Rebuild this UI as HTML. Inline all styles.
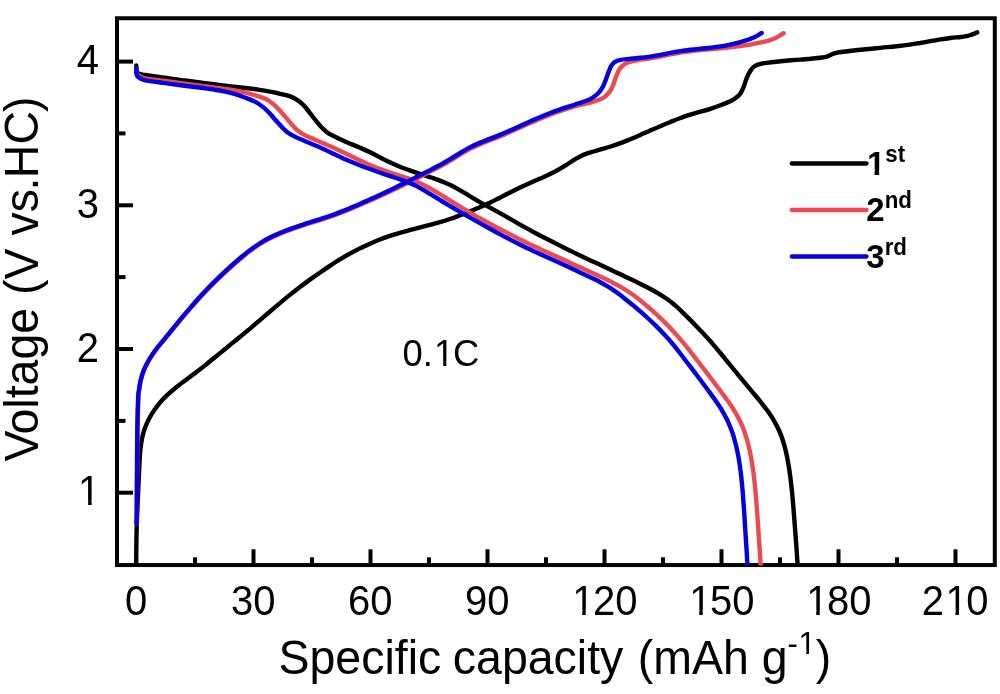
<!DOCTYPE html>
<html lang="en"><head><meta charset="utf-8"><title>Voltage profile</title>
<style>html,body{margin:0;padding:0;background:#fff}svg{display:block}text{font-family:"Liberation Sans",Arial,Helvetica,sans-serif;fill:#000}</style></head><body>
<svg width="1000" height="694" viewBox="0 0 1000 694">
<rect width="1000" height="694" fill="#fff"/>
<g stroke="#000" stroke-width="4" fill="none">
<line x1="195.0" y1="565.0" x2="195.0" y2="557.3"/>
<line x1="253.5" y1="565.0" x2="253.5" y2="549.3"/>
<line x1="312.0" y1="565.0" x2="312.0" y2="557.3"/>
<line x1="370.5" y1="565.0" x2="370.5" y2="549.3"/>
<line x1="429.0" y1="565.0" x2="429.0" y2="557.3"/>
<line x1="487.5" y1="565.0" x2="487.5" y2="549.3"/>
<line x1="546.0" y1="565.0" x2="546.0" y2="557.3"/>
<line x1="604.5" y1="565.0" x2="604.5" y2="549.3"/>
<line x1="663.0" y1="565.0" x2="663.0" y2="557.3"/>
<line x1="721.5" y1="565.0" x2="721.5" y2="549.3"/>
<line x1="780.0" y1="565.0" x2="780.0" y2="557.3"/>
<line x1="838.5" y1="565.0" x2="838.5" y2="549.3"/>
<line x1="897.0" y1="565.0" x2="897.0" y2="557.3"/>
<line x1="955.5" y1="565.0" x2="955.5" y2="549.3"/>
<line x1="117" y1="492.7" x2="133" y2="492.7"/>
<line x1="117" y1="420.9" x2="125.5" y2="420.9"/>
<line x1="117" y1="349.0" x2="133" y2="349.0"/>
<line x1="117" y1="277.1" x2="125.5" y2="277.1"/>
<line x1="117" y1="205.3" x2="133" y2="205.3"/>
<line x1="117" y1="133.4" x2="125.5" y2="133.4"/>
<line x1="117" y1="61.6" x2="133" y2="61.6"/>
<rect x="117" y="18.25" width="877.8" height="546.8"/>
</g>
<clipPath id="plot"><rect x="100" y="0" width="900" height="565.4"/></clipPath>
<g fill="none" stroke-width="4.4" stroke-linecap="round" stroke-linejoin="round" clip-path="url(#plot)">
<path stroke="#000" d="M136.2 564.0C136.2 560.5 136.3 549.7 136.4 543.0C136.5 536.3 136.5 532.5 136.8 523.8C137.1 515.0 137.8 500.3 138.2 490.5C138.6 480.7 139.1 471.5 139.4 465.0C139.7 458.5 139.9 455.1 140.2 451.5C140.5 447.9 140.8 446.1 141.2 443.4C141.6 440.7 142.0 438.1 142.7 435.4C143.4 432.7 144.1 430.2 145.2 427.3C146.3 424.4 147.8 421.1 149.3 418.2C150.8 415.3 152.5 412.8 154.3 410.1C156.2 407.4 158.4 404.5 160.4 402.1C162.4 399.7 164.6 397.5 166.6 395.6C168.6 393.7 170.3 392.2 172.4 390.5C174.4 388.7 176.4 387.1 178.8 385.2C181.1 383.4 183.7 381.6 186.5 379.5C189.4 377.4 192.6 375.1 195.8 372.6C198.9 370.2 202.3 367.5 205.6 364.9C209.0 362.2 212.2 359.5 215.6 356.7C219.0 354.0 222.4 351.2 226.0 348.3C229.5 345.3 233.3 342.3 237.1 339.2C240.8 336.2 244.8 332.9 248.6 329.8C252.3 326.6 256.1 323.4 259.7 320.3C263.4 317.2 266.8 314.1 270.3 311.2C273.8 308.2 277.1 305.4 280.5 302.6C283.8 299.8 287.2 297.1 290.5 294.4C293.9 291.7 297.3 289.0 300.6 286.5C304.0 283.9 307.3 281.5 310.6 279.1C314.0 276.7 317.2 274.5 320.5 272.2C323.8 270.0 327.0 267.8 330.3 265.6C333.6 263.4 336.9 261.2 340.2 259.2C343.6 257.2 346.9 255.2 350.3 253.4C353.7 251.5 357.0 249.8 360.4 248.1C363.8 246.5 367.1 244.9 370.5 243.4C373.8 241.9 377.2 240.5 380.5 239.2C383.9 237.9 387.3 236.8 390.6 235.7C394.0 234.6 397.3 233.6 400.6 232.6C404.0 231.7 407.2 230.8 410.5 229.9C413.8 229.0 417.0 228.2 420.2 227.4C423.5 226.6 426.8 225.8 430.1 224.9C433.3 224.1 436.7 223.2 440.0 222.2C443.3 221.3 446.7 220.2 450.0 219.0C453.4 217.9 456.7 216.6 460.1 215.3C463.5 214.1 466.8 212.7 470.2 211.3C473.6 210.0 476.9 208.6 480.3 207.1C483.7 205.6 487.0 204.0 490.4 202.4C493.8 200.8 497.1 199.0 500.5 197.4C503.8 195.7 507.2 193.9 510.5 192.2C513.9 190.6 517.2 188.9 520.6 187.3C523.9 185.7 527.2 184.2 530.6 182.7C533.9 181.3 537.1 179.9 540.4 178.5C543.7 177.0 547.0 175.6 550.1 174.1C553.3 172.6 556.5 170.9 559.4 169.2C562.3 167.5 565.1 165.7 567.8 164.0C570.4 162.3 572.8 160.5 575.3 159.1C577.9 157.6 580.2 156.2 582.9 155.1C585.6 153.9 588.3 153.0 591.3 152.1C594.2 151.1 597.4 150.4 600.7 149.4C603.9 148.5 607.3 147.6 610.6 146.5C613.9 145.5 617.2 144.3 620.6 143.1C623.9 141.9 627.1 140.6 630.4 139.3C633.7 137.9 636.9 136.5 640.2 135.0C643.6 133.6 646.9 132.1 650.2 130.6C653.6 129.1 656.9 127.6 660.3 126.2C663.7 124.7 667.0 123.3 670.4 122.0C673.8 120.6 677.1 119.2 680.5 118.0C683.8 116.8 687.1 115.6 690.4 114.6C693.8 113.5 697.1 112.7 700.4 111.7C703.7 110.8 707.1 109.9 710.4 108.8C713.7 107.8 717.0 106.6 720.4 105.3C723.7 104.1 727.5 102.6 730.2 101.3C732.9 100.0 734.6 98.7 736.3 97.4C738.0 96.1 739.2 95.1 740.4 93.4C741.6 91.7 742.5 89.5 743.4 87.3C744.3 85.1 745.1 82.5 745.9 80.3C746.7 78.1 747.5 76.0 748.4 74.2C749.3 72.4 750.3 70.6 751.5 69.2C752.7 67.8 753.8 66.5 755.5 65.6C757.2 64.7 759.0 64.2 761.6 63.6C764.2 63.0 767.8 62.7 771.0 62.3C774.2 61.9 777.5 61.5 780.7 61.2C784.0 60.9 787.3 60.6 790.6 60.3C793.9 60.1 797.2 59.9 800.4 59.6C803.7 59.3 807.0 59.1 810.3 58.8C813.6 58.4 817.5 58.0 820.2 57.7C822.9 57.4 824.4 57.4 826.2 56.9C828.1 56.4 829.6 55.3 831.3 54.6C833.0 53.9 833.9 53.3 836.3 52.8C838.7 52.3 842.6 51.9 845.8 51.5C849.0 51.1 852.3 50.7 855.6 50.3C858.9 49.9 862.2 49.6 865.6 49.2C869.0 48.9 872.4 48.6 876.0 48.2C879.5 47.9 883.3 47.5 887.1 47.1C890.9 46.8 894.9 46.4 898.7 46.0C902.5 45.6 906.3 45.1 909.8 44.6C913.4 44.1 916.8 43.5 920.2 43.0C923.6 42.4 926.9 41.8 930.3 41.2C933.7 40.6 937.0 40.0 940.4 39.4C943.8 38.9 947.1 38.5 950.5 38.0C953.8 37.6 957.8 37.3 960.5 37.0C963.2 36.7 964.8 36.6 966.6 36.2C968.5 35.8 969.8 35.3 971.6 34.7C973.4 34.1 976.3 32.8 977.2 32.4"/>
<path stroke="#000" d="M136.3 65.4C136.3 66.1 136.2 68.4 136.4 69.5C136.6 70.6 136.7 71.5 137.2 72.2C137.7 72.9 138.2 73.4 139.5 73.9C140.8 74.4 140.9 74.3 145.2 75.0C149.5 75.7 158.5 76.9 165.2 77.8C171.9 78.7 178.5 79.7 185.1 80.5C191.8 81.4 198.5 82.3 205.1 83.2C211.7 84.0 218.6 84.8 224.9 85.6C231.2 86.4 237.6 87.1 243.1 87.8C248.7 88.4 253.7 89.0 258.1 89.6C262.6 90.3 266.2 90.9 269.9 91.6C273.5 92.3 276.8 93.0 280.1 93.8C283.5 94.6 287.1 95.2 290.2 96.4C293.3 97.6 296.2 99.2 298.6 100.8C301.0 102.4 302.6 104.0 304.6 106.2C306.6 108.4 308.4 111.2 310.4 113.7C312.4 116.2 314.4 118.9 316.4 121.3C318.4 123.7 320.5 126.3 322.5 128.3C324.5 130.3 326.0 131.8 328.5 133.4C331.0 135.0 334.3 136.4 337.5 137.9C340.6 139.4 344.0 140.9 347.5 142.5C351.0 144.0 354.9 145.5 358.6 147.1C362.2 148.7 366.0 150.3 369.6 152.0C373.2 153.8 376.7 155.6 380.1 157.4C383.6 159.1 386.9 161.0 390.3 162.6C393.7 164.2 397.0 165.6 400.4 167.0C403.8 168.3 407.1 169.5 410.5 170.6C413.8 171.8 417.2 172.8 420.5 174.0C423.9 175.1 427.2 176.2 430.6 177.3C433.9 178.5 437.2 179.6 440.6 180.9C443.9 182.2 447.1 183.6 450.4 185.1C453.7 186.7 456.9 188.5 460.2 190.4C463.6 192.3 466.9 194.4 470.2 196.4C473.6 198.4 476.9 200.4 480.3 202.4C483.7 204.3 487.0 206.1 490.4 207.9C493.8 209.8 497.1 211.6 500.5 213.4C503.8 215.3 507.1 217.2 510.5 219.1C513.8 221.0 517.1 222.9 520.5 224.8C523.8 226.7 527.2 228.5 530.5 230.3C533.8 232.2 537.2 233.9 540.5 235.7C543.9 237.4 547.2 239.1 550.5 240.8C553.9 242.5 557.2 244.2 560.5 245.9C563.9 247.6 567.2 249.3 570.6 250.9C573.9 252.6 577.2 254.2 580.6 255.8C583.9 257.4 587.1 258.9 590.4 260.4C593.7 261.9 596.9 263.3 600.2 264.8C603.6 266.4 606.9 267.9 610.2 269.5C613.6 271.1 616.9 272.7 620.3 274.3C623.7 275.9 627.0 277.5 630.4 279.1C633.8 280.7 637.1 282.3 640.5 284.0C643.8 285.6 647.2 287.3 650.4 289.0C653.6 290.7 656.8 292.5 659.8 294.3C662.7 296.1 665.5 297.9 668.1 299.7C670.7 301.6 672.9 303.5 675.2 305.4C677.4 307.3 679.4 309.2 681.5 311.3C683.7 313.4 685.8 315.5 688.2 317.9C690.5 320.2 693.1 322.8 695.6 325.4C698.2 328.1 700.9 330.9 703.6 333.8C706.2 336.7 708.9 339.7 711.6 342.6C714.2 345.6 716.8 348.7 719.3 351.8C721.9 354.8 724.3 357.8 726.8 360.9C729.4 364.1 731.8 367.1 734.5 370.4C737.2 373.6 739.9 377.0 742.8 380.4C745.6 383.8 748.6 387.4 751.5 390.9C754.4 394.4 757.4 397.8 760.2 401.3C762.9 404.8 765.7 408.2 768.1 411.6C770.5 415.0 772.7 418.4 774.5 421.6C776.4 424.8 777.9 427.8 779.3 431.0C780.7 434.2 781.8 437.1 782.9 440.5C784.0 443.9 785.0 447.4 785.9 451.4C786.8 455.3 787.7 459.8 788.4 464.1C789.2 468.5 789.8 473.4 790.4 477.8C791.0 482.2 791.4 486.4 791.9 490.5C792.3 494.7 792.6 498.5 793.0 502.8C793.4 507.1 793.7 511.7 794.1 516.5C794.5 521.4 794.9 526.8 795.3 532.0C795.7 537.3 796.1 542.8 796.5 548.2C796.8 553.6 797.4 561.8 797.6 564.5"/>
<path stroke="#ed4a50" d="M136.8 523.8C136.9 519.0 137.0 504.8 137.0 495.0C137.1 485.2 137.1 476.6 137.2 465.0C137.3 453.4 137.4 436.6 137.6 425.3C137.8 414.0 138.2 402.8 138.4 397.0C138.7 391.2 138.7 393.3 139.1 390.5C139.5 387.8 140.0 383.9 140.8 380.6C141.6 377.2 142.6 373.8 143.9 370.5C145.3 367.1 147.0 363.8 148.9 360.4C150.9 357.1 153.1 353.7 155.6 350.4C158.0 347.0 161.0 343.7 163.7 340.3C166.5 336.9 169.3 333.5 172.2 330.0C175.1 326.5 178.1 322.9 181.2 319.2C184.3 315.5 187.5 311.6 190.8 307.9C194.1 304.1 197.5 300.3 200.8 296.7C204.2 293.0 207.5 289.5 210.9 286.1C214.2 282.7 217.6 279.5 220.9 276.4C224.2 273.3 227.5 270.3 230.8 267.3C234.1 264.3 237.4 261.4 240.7 258.6C244.0 255.8 247.3 253.0 250.7 250.5C254.0 248.1 257.4 245.8 260.7 243.7C264.1 241.6 267.4 239.8 270.8 238.1C274.1 236.4 277.5 234.9 280.8 233.5C284.1 232.1 287.5 230.9 290.8 229.6C294.2 228.4 297.5 227.3 300.9 226.2C304.2 225.1 307.5 224.0 310.8 223.0C314.1 221.9 317.4 221.0 320.7 219.9C324.0 218.8 327.2 217.8 330.5 216.6C333.9 215.5 337.2 214.2 340.6 212.9C343.9 211.7 347.3 210.3 350.7 208.9C354.0 207.5 357.4 206.1 360.7 204.6C364.1 203.2 367.4 201.8 370.8 200.3C374.1 198.8 377.5 197.3 380.8 195.7C384.2 194.2 387.5 192.6 390.9 191.0C394.2 189.4 397.6 187.8 401.0 186.2C404.3 184.5 407.7 182.9 411.1 181.2C414.4 179.6 417.8 177.9 421.1 176.2C424.5 174.5 427.9 172.8 431.2 171.1C434.6 169.4 437.9 167.7 441.3 165.9C444.6 164.0 447.9 162.1 451.2 160.1C454.5 158.2 457.7 156.0 461.0 154.0C464.3 152.1 467.6 150.1 470.9 148.4C474.2 146.8 477.5 145.3 480.9 143.9C484.2 142.5 487.6 141.4 490.9 140.0C494.3 138.7 497.7 137.4 501.0 136.0C504.4 134.6 507.8 133.1 511.1 131.6C514.5 130.1 517.9 128.6 521.2 127.1C524.6 125.6 527.9 124.1 531.2 122.6C534.6 121.2 537.8 119.7 541.1 118.3C544.4 117.0 547.6 115.6 550.8 114.4C554.1 113.1 557.3 111.9 560.6 110.8C563.9 109.7 567.3 108.6 570.6 107.6C573.9 106.6 577.3 105.7 580.6 104.9C583.9 104.0 587.4 103.3 590.4 102.5C593.4 101.7 596.0 100.9 598.4 100.0C600.8 99.1 602.6 98.3 604.5 97.0C606.4 95.7 608.1 93.7 609.5 91.9C610.9 90.1 611.7 88.5 612.6 86.4C613.5 84.3 614.3 81.6 615.1 79.3C615.9 77.0 616.7 74.6 617.6 72.7C618.5 70.8 619.4 69.1 620.6 67.7C621.8 66.3 623.2 65.2 624.7 64.2C626.2 63.2 627.7 62.6 629.7 62.0C631.7 61.4 633.6 60.9 636.8 60.3C640.0 59.7 645.0 59.1 648.9 58.5C652.7 57.8 656.4 57.1 660.0 56.5C663.5 55.8 666.9 55.1 670.3 54.4C673.7 53.8 677.0 53.2 680.4 52.6C683.8 52.1 687.1 51.6 690.5 51.2C693.8 50.7 697.2 50.4 700.5 50.0C703.8 49.7 707.1 49.4 710.4 49.2C713.7 48.9 716.9 48.7 720.2 48.4C723.5 48.1 726.8 47.8 730.1 47.4C733.5 47.0 736.9 46.6 740.2 46.1C743.5 45.7 746.9 45.2 750.2 44.6C753.4 44.0 756.6 43.4 759.6 42.7C762.7 42.1 765.8 41.5 768.4 40.7C771.0 39.9 773.5 38.9 775.5 38.0C777.5 37.1 779.1 36.0 780.5 35.2C781.9 34.4 783.1 33.5 783.6 33.2"/>
<path stroke="#ed4a50" d="M136.4 68.2C136.4 68.7 136.3 70.0 136.4 71.0C136.5 72.0 136.5 73.2 137.0 74.0C137.5 74.8 137.9 75.3 139.3 76.0C140.7 76.7 140.9 77.5 145.2 78.3C149.5 79.1 158.5 80.1 165.2 81.0C171.9 81.9 178.6 82.8 185.1 83.7C191.7 84.5 198.4 85.4 204.5 86.2C210.5 87.0 216.4 87.8 221.4 88.5C226.5 89.2 230.7 89.8 234.7 90.5C238.7 91.2 241.9 91.8 245.4 92.6C248.9 93.5 252.1 94.4 255.5 95.4C258.8 96.4 262.5 97.3 265.5 98.8C268.5 100.3 271.1 102.3 273.6 104.4C276.1 106.5 278.5 109.2 280.7 111.5C282.9 113.8 284.7 116.2 286.7 118.5C288.7 120.8 290.9 123.5 292.8 125.6C294.7 127.7 296.2 129.4 298.3 131.0C300.4 132.6 302.4 133.9 305.3 135.4C308.2 136.9 312.2 138.4 315.7 140.0C319.2 141.5 322.7 143.0 326.2 144.5C329.7 146.1 333.2 147.6 336.7 149.3C340.3 151.0 344.0 152.8 347.7 154.6C351.4 156.4 355.3 158.3 359.0 160.1C362.7 161.8 366.4 163.5 369.9 165.0C373.4 166.5 376.8 167.8 380.2 169.1C383.6 170.4 386.9 171.5 390.2 172.6C393.4 173.7 396.6 174.7 399.6 175.6C402.6 176.6 405.5 177.4 408.3 178.4C411.1 179.4 413.8 180.4 416.5 181.5C419.2 182.7 421.9 184.0 424.6 185.4C427.3 186.7 430.0 188.3 432.7 189.9C435.5 191.5 438.3 193.2 441.2 195.0C444.2 196.8 447.2 198.8 450.4 200.7C453.5 202.7 456.8 204.7 460.2 206.7C463.5 208.7 466.8 210.7 470.2 212.7C473.6 214.6 476.9 216.6 480.3 218.5C483.6 220.3 487.0 222.2 490.3 224.0C493.7 225.8 497.0 227.5 500.3 229.3C503.7 231.0 507.0 232.7 510.3 234.4C513.7 236.1 517.0 237.9 520.3 239.5C523.7 241.2 527.0 242.9 530.4 244.5C533.7 246.1 537.1 247.6 540.4 249.2C543.8 250.7 547.1 252.3 550.5 253.8C553.8 255.3 557.2 256.8 560.5 258.3C563.9 259.8 567.2 261.3 570.6 262.9C573.9 264.4 577.2 265.9 580.6 267.5C583.9 269.0 587.1 270.5 590.4 272.1C593.7 273.6 596.9 275.1 600.2 276.6C603.6 278.2 606.9 279.7 610.2 281.4C613.5 283.1 616.9 284.8 620.2 286.7C623.4 288.5 626.6 290.4 629.6 292.5C632.6 294.5 635.5 296.6 638.2 298.7C641.0 300.8 643.5 303.0 646.0 305.2C648.6 307.3 650.9 309.4 653.4 311.6C655.8 313.8 658.2 316.0 660.7 318.4C663.2 320.8 665.8 323.3 668.4 326.0C670.9 328.7 673.7 331.6 676.3 334.6C678.9 337.5 681.5 340.6 684.0 343.7C686.5 346.7 689.0 349.8 691.4 352.8C693.8 355.9 696.0 358.8 698.4 361.8C700.7 364.9 703.0 367.8 705.3 370.9C707.7 374.1 710.1 377.2 712.6 380.5C715.1 383.8 717.7 387.3 720.3 390.7C722.8 394.2 725.5 397.7 727.9 401.1C730.3 404.5 732.6 407.9 734.7 411.3C736.7 414.7 738.5 417.9 740.1 421.3C741.8 424.7 743.1 428.0 744.4 431.6C745.7 435.2 746.8 439.0 747.9 443.0C749.0 447.1 749.9 451.5 750.8 456.1C751.7 460.7 752.4 465.6 753.1 470.4C753.8 475.2 754.4 480.1 754.9 485.1C755.4 490.0 755.8 494.9 756.2 500.0C756.7 505.1 757.0 510.4 757.4 515.7C757.8 521.0 758.1 526.5 758.5 532.0C758.9 537.5 759.2 543.0 759.6 548.5C760.0 554.0 760.5 562.2 760.7 565.0"/>
<path stroke="#0400e4" d="M136.6 523.8C136.6 519.0 136.7 504.8 136.8 495.0C136.9 485.2 136.9 476.6 137.0 465.0C137.1 453.4 137.2 436.6 137.4 425.3C137.6 414.0 137.9 402.8 138.2 397.0C138.4 391.2 138.5 393.2 138.9 390.5C139.3 387.8 139.8 383.9 140.6 380.5C141.4 377.1 142.3 373.8 143.7 370.4C145.0 367.0 146.8 363.7 148.7 360.3C150.6 356.9 152.8 353.6 155.3 350.2C157.8 346.8 160.7 343.5 163.5 340.1C166.2 336.7 169.0 333.3 171.9 329.8C174.8 326.2 177.7 322.6 180.8 318.9C183.9 315.2 187.1 311.3 190.4 307.6C193.7 303.8 197.1 299.9 200.4 296.3C203.7 292.6 207.1 289.1 210.4 285.7C213.8 282.3 217.1 279.1 220.4 275.9C223.7 272.7 227.0 269.7 230.3 266.7C233.6 263.7 236.9 260.8 240.2 258.0C243.5 255.2 246.8 252.4 250.2 249.9C253.5 247.4 256.9 245.1 260.3 243.0C263.7 240.9 267.0 239.0 270.4 237.3C273.8 235.6 277.1 234.2 280.5 232.7C283.8 231.3 287.2 230.1 290.5 228.9C293.9 227.6 297.2 226.5 300.6 225.4C303.9 224.3 307.2 223.2 310.6 222.2C313.9 221.1 317.1 220.1 320.4 219.1C323.7 218.0 326.9 217.0 330.2 215.8C333.6 214.6 336.9 213.4 340.2 212.1C343.6 210.8 346.9 209.4 350.3 208.0C353.6 206.6 357.0 205.2 360.3 203.7C363.7 202.3 367.0 200.8 370.3 199.3C373.7 197.8 377.0 196.3 380.3 194.7C383.7 193.2 387.0 191.5 390.4 189.9C393.7 188.3 397.1 186.7 400.4 185.1C403.8 183.4 407.1 181.8 410.5 180.1C413.8 178.4 417.2 176.7 420.5 175.0C423.9 173.3 427.2 171.6 430.6 169.9C433.9 168.1 437.2 166.4 440.6 164.6C443.9 162.8 447.1 160.8 450.4 158.9C453.7 156.9 456.9 154.7 460.2 152.8C463.6 150.8 466.9 148.8 470.2 147.1C473.6 145.4 476.9 144.0 480.3 142.6C483.7 141.2 487.0 140.0 490.4 138.6C493.8 137.3 497.1 136.0 500.5 134.6C503.8 133.2 507.2 131.7 510.5 130.2C513.9 128.8 517.3 127.2 520.6 125.7C524.0 124.2 527.3 122.7 530.6 121.2C534.0 119.8 537.2 118.3 540.5 117.0C543.8 115.6 547.0 114.3 550.3 113.0C553.6 111.7 556.9 110.5 560.2 109.4C563.5 108.2 566.8 107.2 570.1 106.1C573.3 105.1 576.5 104.1 579.5 103.0C582.6 102.0 585.8 101.1 588.3 100.0C590.8 98.9 592.5 97.8 594.4 96.5C596.2 95.2 598.0 93.6 599.4 91.9C600.8 90.2 601.9 88.5 603.0 86.4C604.1 84.3 605.1 81.7 606.0 79.3C606.9 76.9 607.6 74.4 608.5 72.2C609.4 70.0 610.1 67.9 611.1 66.2C612.1 64.5 613.0 63.2 614.6 62.2C616.2 61.2 617.9 60.5 620.6 59.9C623.3 59.3 627.2 59.2 630.6 58.8C633.9 58.5 637.1 58.2 640.4 57.8C643.7 57.5 646.9 57.1 650.2 56.6C653.6 56.1 656.9 55.5 660.2 54.9C663.6 54.2 666.9 53.5 670.3 52.9C673.7 52.2 677.0 51.6 680.4 51.1C683.8 50.6 687.1 50.2 690.5 49.8C693.8 49.5 697.2 49.2 700.5 48.8C703.9 48.4 707.2 48.1 710.5 47.7C713.8 47.3 717.2 46.9 720.4 46.4C723.7 45.9 727.0 45.3 730.2 44.6C733.4 43.9 736.5 43.1 739.5 42.3C742.5 41.5 745.8 40.5 748.3 39.7C750.8 38.9 752.5 38.0 754.3 37.2C756.1 36.4 757.7 35.4 758.9 34.7C760.1 34.0 761.1 33.3 761.6 33.0"/>
<path stroke="#0400e4" d="M136.4 67.6C136.4 68.5 136.2 71.8 136.4 73.2C136.6 74.7 136.7 75.5 137.3 76.3C137.9 77.1 138.8 77.6 140.1 78.3C141.4 79.0 141.0 79.5 145.2 80.3C149.4 81.1 158.7 82.2 165.2 83.1C171.7 84.0 178.5 84.9 184.5 85.7C190.5 86.5 196.3 87.2 201.3 87.8C206.3 88.5 210.5 89.0 214.5 89.7C218.5 90.3 221.7 90.9 225.2 91.6C228.7 92.4 231.9 93.2 235.3 94.2C238.7 95.2 242.0 96.4 245.4 97.7C248.8 99.0 252.5 100.3 255.5 101.9C258.5 103.5 261.0 105.4 263.5 107.4C266.0 109.4 268.2 111.8 270.3 114.1C272.4 116.4 274.4 118.8 276.4 121.0C278.4 123.2 280.6 125.8 282.4 127.6C284.2 129.4 285.0 130.5 287.0 132.0C289.0 133.5 291.3 134.9 294.2 136.4C297.1 137.9 301.1 139.4 304.6 140.9C308.1 142.4 311.6 143.8 315.0 145.3C318.4 146.7 321.8 148.2 325.1 149.7C328.5 151.3 331.7 152.9 335.2 154.6C338.8 156.2 342.5 158.1 346.4 159.8C350.2 161.5 354.5 163.2 358.4 164.7C362.3 166.3 366.1 167.7 369.8 169.0C373.4 170.3 376.8 171.5 380.2 172.7C383.6 173.9 386.9 175.0 390.2 176.1C393.4 177.2 396.6 178.2 399.6 179.2C402.6 180.3 405.5 181.2 408.3 182.4C411.1 183.5 413.8 184.8 416.5 186.1C419.2 187.5 421.9 189.0 424.5 190.6C427.2 192.1 429.8 193.8 432.5 195.4C435.2 197.1 437.9 198.7 440.9 200.5C443.8 202.3 446.9 204.1 450.1 206.0C453.3 207.9 456.7 209.9 460.1 211.9C463.4 213.8 466.8 215.8 470.2 217.7C473.6 219.7 476.9 221.6 480.3 223.4C483.6 225.3 487.0 227.2 490.3 229.0C493.7 230.8 497.0 232.6 500.3 234.4C503.6 236.2 507.0 237.9 510.3 239.6C513.6 241.3 516.9 243.0 520.3 244.7C523.6 246.3 527.0 248.0 530.3 249.6C533.7 251.2 537.0 252.8 540.4 254.3C543.8 255.8 547.1 257.3 550.5 258.8C553.8 260.3 557.2 261.8 560.5 263.3C563.9 264.8 567.2 266.4 570.6 268.0C573.9 269.5 577.3 271.1 580.6 272.7C583.8 274.2 587.1 275.7 590.3 277.2C593.4 278.7 596.5 280.1 599.5 281.7C602.5 283.3 605.3 284.9 608.1 286.6C610.9 288.3 613.5 290.2 616.2 292.1C618.9 294.1 621.6 296.1 624.3 298.2C626.9 300.3 629.6 302.5 632.3 304.7C634.9 306.9 637.5 309.1 640.2 311.4C642.9 313.7 645.5 316.0 648.2 318.5C650.9 321.0 653.7 323.6 656.5 326.3C659.2 329.0 662.1 332.0 664.8 335.0C667.6 337.9 670.3 341.1 672.8 344.2C675.4 347.3 677.9 350.4 680.2 353.5C682.6 356.5 684.8 359.5 687.1 362.5C689.4 365.5 691.6 368.4 693.9 371.4C696.2 374.4 698.6 377.5 701.0 380.7C703.4 384.0 706.0 387.4 708.5 390.8C711.0 394.2 713.6 397.7 715.9 401.1C718.2 404.5 720.5 407.9 722.5 411.3C724.5 414.7 726.3 417.9 727.9 421.3C729.4 424.7 730.7 428.0 732.0 431.6C733.3 435.2 734.4 439.0 735.4 443.0C736.5 447.1 737.5 451.5 738.3 456.1C739.2 460.7 739.9 465.6 740.5 470.4C741.2 475.2 741.6 480.1 742.1 485.1C742.6 490.0 743.0 494.9 743.3 500.0C743.7 505.1 744.1 510.4 744.4 515.7C744.7 521.0 745.1 526.5 745.4 532.0C745.8 537.5 746.1 543.0 746.5 548.5C746.8 554.0 747.3 562.2 747.5 565.0"/>
</g>
<text class="tk" transform="translate(125.08,614.9) scale(1,1.06)" font-size="40">0</text>
<text class="tk" transform="translate(230.95,614.9) scale(1,1.06)" font-size="40">30</text>
<text class="tk" transform="translate(347.95,614.9) scale(1,1.06)" font-size="40">60</text>
<text class="tk" transform="translate(464.95,614.9) scale(1,1.06)" font-size="40">90</text>
<text class="tk" transform="translate(570.83,614.9) scale(1,1.06)" font-size="40"><tspan dx="1.32">1</tspan><tspan dx="-1.32">2</tspan>0</text>
<text class="tk" transform="translate(687.83,614.9) scale(1,1.06)" font-size="40"><tspan dx="1.32">1</tspan><tspan dx="-1.32">5</tspan>0</text>
<text class="tk" transform="translate(804.83,614.9) scale(1,1.06)" font-size="40"><tspan dx="1.32">1</tspan><tspan dx="-1.32">8</tspan>0</text>
<text class="tk" transform="translate(921.83,614.9) scale(1,1.06)" font-size="40">2<tspan dx="1.32">1</tspan><tspan dx="-1.32">0</tspan></text>
<text class="tk" transform="translate(76.75,505.4) scale(1,1.06)" font-size="40"><tspan dx="1.32">1</tspan></text>
<text class="tk" transform="translate(76.75,361.7) scale(1,1.06)" font-size="40">2</text>
<text class="tk" transform="translate(76.75,218.0) scale(1,1.06)" font-size="40">3</text>
<text class="tk" transform="translate(76.75,74.3) scale(1,1.06)" font-size="40">4</text>
<text id="xt" transform="translate(278.5,673.6) scale(1,1.02)" font-size="46.5">Specific <tspan dx="-1.4">capacity</tspan> <tspan dx="1.5">(mAh</tspan> <tspan dx="0.1">g</tspan><tspan font-size="31" dy="-19.2" dx="-0.1">-<tspan dx="0.5">1</tspan></tspan><tspan dy="19.2" dx="0">)</tspan></text>
<text id="yt" transform="translate(37.9,461.6) rotate(-90) scale(1,1.02)" font-size="46.5" dx="0 -1.4 0 0 0 0 0 0 0 0 0 0 0 -1.4 -0.7 0 -0.9">Voltage (V vs.HC)</text>
<text id="rate" transform="translate(402.5,366) scale(1,1.03)" font-size="36.4">0.<tspan dx="1.20">1</tspan><tspan dx="-1.20">C</tspan></text>
<g fill="none" stroke-width="4.3" stroke-linecap="round">
<line x1="791.8" y1="163.5" x2="866.5" y2="163.5" stroke="#000"/>
<line x1="791.8" y1="210" x2="866.5" y2="210" stroke="#ed4a50"/>
<line x1="791.8" y1="256.5" x2="866.5" y2="256.5" stroke="#0400e4"/>
</g>
<text class="lg" transform="translate(866.3,175) scale(1,1.035)" font-size="33" font-weight="bold"><tspan dx="0.59">1</tspan><tspan font-size="22.3" dy="-12.9">st</tspan></text>
<text class="lg" transform="translate(866.3,221.2) scale(1,1.035)" font-size="33" font-weight="bold">2<tspan font-size="22.3" dy="-12.9">nd</tspan></text>
<text class="lg" transform="translate(866.3,268.2) scale(1,1.035)" font-size="33" font-weight="bold">3<tspan font-size="22.3" dy="-12.9">rd</tspan></text>
<g fill="#fff"><rect x="574.40" y="609.83" width="7.81" height="5.87"/><rect x="585.74" y="609.83" width="7.50" height="5.87"/><rect x="691.40" y="609.83" width="7.81" height="5.87"/><rect x="702.74" y="609.83" width="7.50" height="5.87"/><rect x="808.40" y="609.83" width="7.81" height="5.87"/><rect x="819.74" y="609.83" width="7.50" height="5.87"/><rect x="947.64" y="609.83" width="7.81" height="5.87"/><rect x="958.99" y="609.83" width="7.50" height="5.87"/><rect x="80.32" y="500.33" width="7.81" height="5.87"/><rect x="91.66" y="500.33" width="7.50" height="5.87"/><rect x="799.99" y="649.75" width="6.23" height="5.06"/><rect x="808.96" y="649.75" width="5.99" height="5.06"/><rect x="436.03" y="361.30" width="7.18" height="5.50"/><rect x="446.42" y="361.30" width="6.90" height="5.50"/><rect x="868.17" y="169.61" width="6.42" height="6.19"/><rect x="879.12" y="169.61" width="6.00" height="6.19"/></g>
</svg></body></html>
